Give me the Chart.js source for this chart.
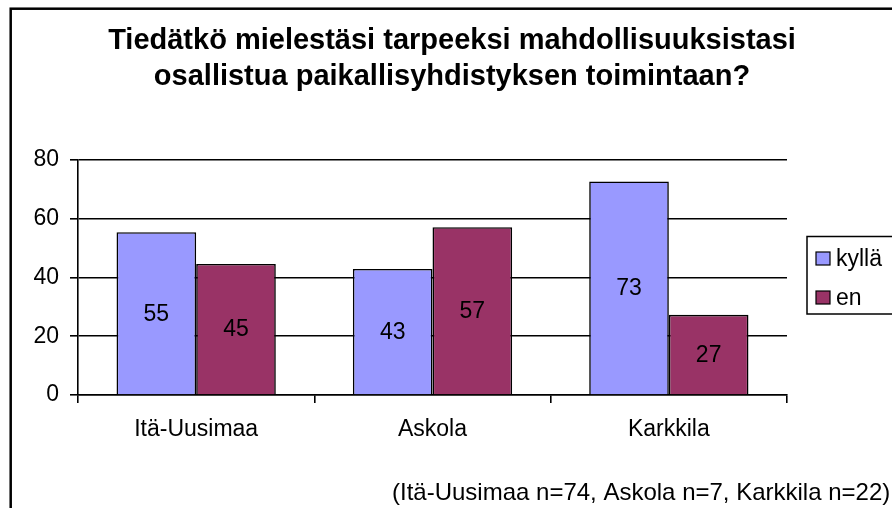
<!DOCTYPE html>
<html lang="fi">
<head>
  <meta charset="UTF-8" />
  <title>Paikallisyhdistyksen toiminta</title>
  <style>
    html, body {
      margin: 0;
      padding: 0;
      background: #fff;
      overflow: hidden;
    }
    #wrap {
      position: absolute;
      left: 0;
      top: 0;
      width: 892px;
      height: 508px;
    }
  </style>
</head>
<body>
  <div id="wrap">
    <canvas id="chart" width="892" height="508"></canvas>
  </div>

  <script src="https://cdn.jsdelivr.net/npm/chart.js"></script>
<script>
  const titleLines = ['Tiedätkö mielestäsi tarpeeksi mahdollisuuksistasi', 'osallistua paikallisyhdistyksen toimintaan?'];
  const categories = ['Itä-Uusimaa', 'Askola', 'Karkkila'];
  const seriesNames = ['kyllä', 'en'];
  const kylla = [55.4, 42.9, 72.7];
  const en = [44.6, 57.1, 27.3];
  const yTicks = [0, 20, 40, 60, 80];
  const footnote = '(Itä-Uusimaa n=74, Askola n=7, Karkkila n=22)';

  const FONT = "'Liberation Sans', Arial, sans-serif";
  const colors = ['#9999FF', '#993366'];

  // border, title, legend, value labels and the note are drawn here
  const extras = {
    id: 'extras',
    afterDraw(chart) {
      const ctx = chart.ctx;
      ctx.save();

      ctx.strokeStyle = '#000';
      ctx.lineWidth = 2.5;
      ctx.strokeRect(10.7, 8.7, 1000, 1000);

      ctx.fillStyle = '#000';
      ctx.textAlign = 'center';
      ctx.textBaseline = 'alphabetic';
      ctx.font = 'bold 29px ' + FONT;
      ctx.fillText(titleLines[0], 452, 49);
      ctx.fillText(titleLines[1], 452, 85);

      // values in the middle of the bars
      ctx.font = '23px ' + FONT;
      ctx.textBaseline = 'middle';
      chart.data.datasets.forEach((ds, i) => {
        chart.getDatasetMeta(i).data.forEach((bar, j) => {
          ctx.fillText(String(Math.round(ds.data[j])), bar.x, (bar.y + bar.base) / 2 + 1);
        });
      });

      // legend
      ctx.lineWidth = 1.5;
      ctx.strokeRect(807, 236.5, 200, 77.5);
      ctx.textAlign = 'left';
      const rows = [258.5, 297.5];
      chart.data.datasets.forEach((ds, i) => {
        ctx.fillStyle = ds.backgroundColor;
        ctx.fillRect(816, rows[i] - 6.5, 14, 13);
        ctx.lineWidth = 1.2;
        ctx.strokeRect(816, rows[i] - 6.5, 14, 13);
        ctx.fillStyle = '#000';
        ctx.fillText(ds.label, 836, rows[i] + 1);
      });

      ctx.font = '24px ' + FONT;
      ctx.textBaseline = 'alphabetic';
      ctx.fillText(footnote, 392, 500);

      ctx.restore();
    }
  };

  new Chart(document.getElementById('chart'), {
    type: 'bar',
    data: {
      labels: categories,
      datasets: [
        { label: seriesNames[0], data: kylla, backgroundColor: colors[0] },
        { label: seriesNames[1], data: en, backgroundColor: colors[1] }
      ]
    },
    options: {
      responsive: false,
      animation: false,
      events: [],
      layout: { padding: { top: 160, right: 105, bottom: 0, left: 0 } },
      datasets: {
        bar: {
          borderColor: '#000',
          borderWidth: 1.6,
          categoryPercentage: 0.674,
          barPercentage: 1
        }
      },
      plugins: {
        legend: { display: false },
        title: { display: false },
        tooltip: { enabled: false }
      },
      scales: {
        x: {
          afterFit: s => { s.height = 113; },
          grid: {
            offset: true,
            drawOnChartArea: false,
            color: '#000',
            lineWidth: 1.6,
            tickLength: 8
          },
          border: { color: '#000', width: 1.6 },
          ticks: {
            color: '#000',
            padding: 13,
            maxRotation: 0,
            font: { family: FONT, size: 23 }
          }
        },
        y: {
          min: yTicks[0],
          max: yTicks[yTicks.length - 1],
          afterFit: s => { s.width = 78; },
          afterBuildTicks: s => { s.ticks = yTicks.map(v => ({ value: v })); },
          grid: { color: '#000', lineWidth: 1.6, tickLength: 8 },
          border: { color: '#000', width: 1.6 },
          ticks: {
            color: '#000',
            padding: 11,
            font: { family: FONT, size: 23 }
          }
        }
      }
    },
    plugins: [extras]
  });
</script>
</body>
</html>
